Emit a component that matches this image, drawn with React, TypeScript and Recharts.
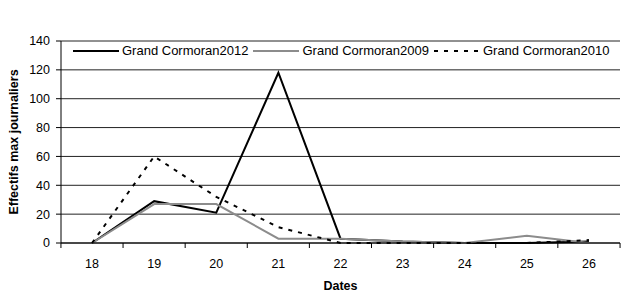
import React from 'react';
import {
  LineChart,
  Line,
  XAxis,
  YAxis,
  CartesianGrid,
} from 'recharts';

const dates = ['18', '19', '20', '21', '22', '23', '24', '25', '26'];
const cormoran2012 = [0, 29, 21, 118, 3, 1, 0, 0, 1];
const cormoran2009 = [0, 27, 27, 3, 3, 1, 0, 5, 0];
const cormoran2010 = [0, 60, 32, 11, 0, 0, 0, 0, 2];
const yTicks = [0, 20, 40, 60, 80, 100, 120, 140];

const seriesInfo = [
  { key: 'g2012', name: 'Grand Cormoran2012', color: '#000000', dash: undefined as string | undefined },
  { key: 'g2009', name: 'Grand Cormoran2009', color: '#8c8c8c', dash: undefined as string | undefined },
  { key: 'g2010', name: 'Grand Cormoran2010', color: '#000000', dash: '4 6' },
];

const data = dates.map((d, i) => ({
  date: d,
  g2012: cormoran2012[i],
  g2009: cormoran2009[i],
  g2010: cormoran2010[i],
}));

const FONT = '"Liberation Sans", Arial, sans-serif';
const HALF_BAND = 560 / dates.length / 2;

const DateTick = (props: any) => {
  const { x, y, payload, index } = props;
  const axisY = y - 8;
  return (
    <g>
      <line x1={x - HALF_BAND} x2={x - HALF_BAND} y1={axisY} y2={axisY + 5} stroke="#000" />
      {index === dates.length - 1 && (
        <line x1={x + HALF_BAND} x2={x + HALF_BAND} y1={axisY} y2={axisY + 5} stroke="#000" />
      )}
      <text x={x} y={axisY + 25} textAnchor="middle" fontSize={12.5} fontFamily={FONT} fill="#000">
        {payload.value}
      </text>
    </g>
  );
};

// legend drawn as an overlay so it doesn't eat into the plot height
const LegendBox = () => (
  <div
    style={{
      position: 'absolute',
      left: 73,
      top: 43,
      display: 'flex',
      alignItems: 'center',
      fontFamily: FONT,
      fontSize: 13,
      color: '#000',
      whiteSpace: 'nowrap',
    }}
  >
    {seriesInfo.map((s) => (
      <div key={s.key} style={{ display: 'flex', alignItems: 'center', marginRight: 5 }}>
        <svg width={46} height={6} style={{ marginRight: 3 }}>
          <line x1={0} x2={46} y1={3} y2={3} stroke={s.color} strokeWidth={2} strokeDasharray={s.dash} />
        </svg>
        <span>{s.name}</span>
      </div>
    ))}
  </div>
);

const App: React.FC = () => {
  return (
    <div style={{ position: 'absolute', left: 0, top: 0, width: 621, height: 296, background: '#fff' }}>
      <LineChart
        width={621}
        height={296}
        data={data}
        margin={{ top: 41, right: 1, bottom: 0, left: 0 }}
      >
        <CartesianGrid vertical={false} stroke="#222" strokeWidth={1} />
        <XAxis
          dataKey="date"
          scale="band"
          stroke="#000"
          tickLine={false}
          tick={<DateTick />}
          interval={0}
          height={53}
          label={{
            value: 'Dates',
            position: 'insideBottom',
            offset: 6,
            style: { fontFamily: FONT, fontSize: 12.5, fontWeight: 'bold', fill: '#000' },
          }}
        />
        <YAxis
          domain={[0, 140]}
          ticks={yTicks}
          interval={0}
          width={61}
          stroke="#000"
          tickSize={5}
          tick={{ fontFamily: FONT, fontSize: 12.5, fill: '#000', dx: -4 }}
          label={(props: any) => {
            const vb = props.viewBox;
            const cy = vb.y + vb.height / 2;
            return (
              <text
                x={18}
                y={cy}
                transform={`rotate(-90 18 ${cy})`}
                textAnchor="middle"
                fontFamily={FONT}
                fontSize={12.5}
                fontWeight="bold"
                fill="#000"
              >
                Effectifs max journaliers
              </text>
            );
          }}
        />
        {seriesInfo.map((s) => (
          <Line
            key={s.key}
            type="linear"
            dataKey={s.key}
            name={s.name}
            stroke={s.color}
            strokeWidth={2}
            strokeDasharray={s.dash}
            dot={false}
            activeDot={false}
            isAnimationActive={false}
          />
        ))}
      </LineChart>
      <LegendBox />
    </div>
  );
};

export default App;
